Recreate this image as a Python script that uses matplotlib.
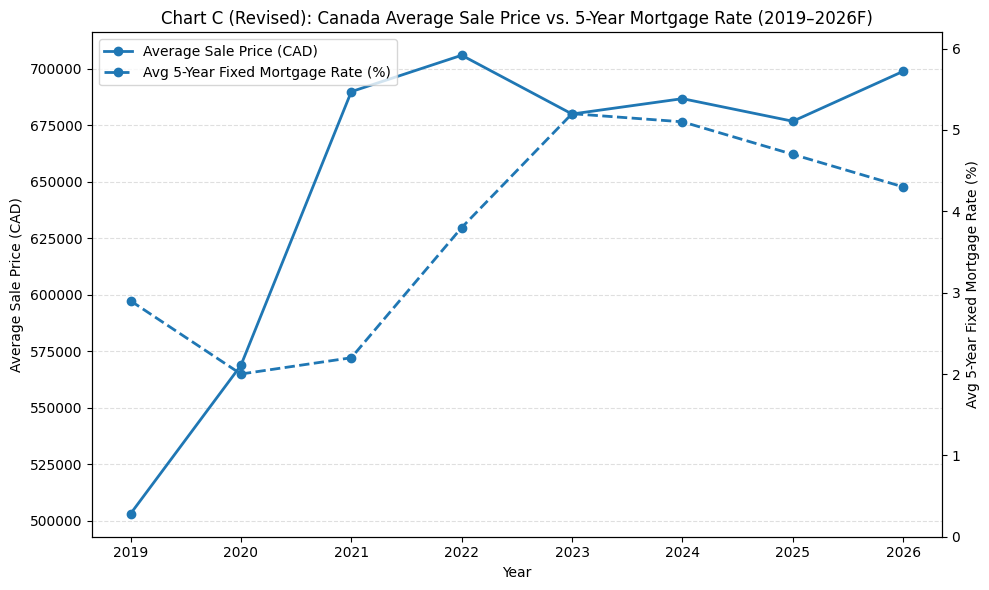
import matplotlib
matplotlib.use('Agg')
import matplotlib.pyplot as plt

# Data
years = [2019, 2020, 2021, 2022, 2023, 2024, 2025, 2026]
avg_price = [503000, 568700, 689800, 705900, 679900, 686700, 676700, 698800]
mortgage_rate = [2.9, 2.0, 2.2, 3.8, 5.2, 5.1, 4.7, 4.3]

fig, ax1 = plt.subplots(figsize=(10, 6), dpi=100)

line1, = ax1.plot(years, avg_price, marker='o', linewidth=2, color='#1f77b4',
                  label='Average Sale Price (CAD)')
ax1.set_xlabel('Year')
ax1.set_ylabel('Average Sale Price (CAD)')
ax1.grid(axis='y', linestyle='--', alpha=0.4)
ax1.ticklabel_format(axis='y', style='plain', useOffset=False)

ax2 = ax1.twinx()
line2, = ax2.plot(years, mortgage_rate, marker='o', linestyle='--', linewidth=2,
                  color='#1f77b4', label='Avg 5-Year Fixed Mortgage Rate (%)')
ax2.set_ylabel('Avg 5-Year Fixed Mortgage Rate (%)')
ax2.set_ylim(0, 6.2)

ax1.legend([line1, line2], [line1.get_label(), line2.get_label()], loc='upper left')
ax1.set_title('Chart C (Revised): Canada Average Sale Price vs. 5-Year Mortgage Rate (2019–2026F)')

plt.tight_layout()
plt.savefig('out.png', bbox_inches='tight')
